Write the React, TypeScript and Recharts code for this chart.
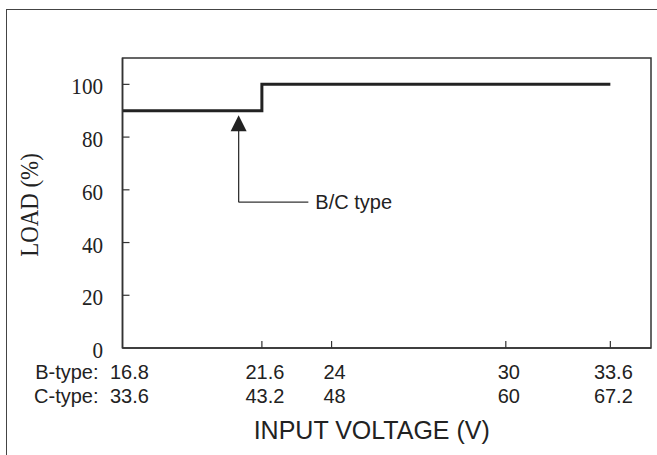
import { LineChart, Line, XAxis, YAxis, ReferenceArea, ReferenceLine, ReferenceDot } from 'recharts';

const bTypeVoltage = [16.8, 21.6, 24, 30, 33.6];
const cTypeVoltage = [33.6, 43.2, 48, 60, 67.2];
const loadTicks = [0, 20, 40, 60, 80, 100];

const stepVoltage = [16.8, 21.6, 33.6];
const stepLoad = [90, 100, 100];

// callout arrow "B/C type"
const arrowVoltage = 20.8;
const arrowTipLoad = 88.3;
const elbowLoad = 55.3;
const calloutEndVoltage = 23.2;

const data = stepVoltage.map((v, i) => ({ voltage: v, load: stepLoad[i] }));

const SANS = '"Liberation Sans", Arial, sans-serif';
const SERIF = '"Liberation Serif", "Times New Roman", serif';
const INK = '#222';
const AXIS = '#333';

// x tick: inward tick mark + two rows of labels (B-type / C-type)
function VoltageTick(props: any) {
  const { x, y, payload } = props;
  const i = bTypeVoltage.indexOf(payload.value);
  const first = i === 0;
  const row1 = y + 24;
  const row2 = y + 48;
  const common = { fontFamily: SANS, fontSize: 20, fill: INK, dominantBaseline: 'central' as const };
  const mark = first ? null : <line x1={x} x2={x} y1={y} y2={y - 7} stroke={AXIS} strokeWidth={1.2} />;
  if (first) {
    return (
      <g>
        <text x={x - 24} y={row1} textAnchor="end" {...common}>B-type:</text>
        <text x={x - 12.5} y={row1} textAnchor="start" {...common}>{bTypeVoltage[i]}</text>
        <text x={x - 24} y={row2} textAnchor="end" {...common}>C-type:</text>
        <text x={x - 12.5} y={row2} textAnchor="start" {...common}>{cTypeVoltage[i]}</text>
      </g>
    );
  }
  return (
    <g>
      {mark}
      <text x={x + 3} y={row1} textAnchor="middle" {...common}>{bTypeVoltage[i]}</text>
      <text x={x + 3} y={row2} textAnchor="middle" {...common}>{cTypeVoltage[i]}</text>
    </g>
  );
}

// y tick: inward tick mark + narrow serif label
function LoadTick(props: any) {
  const { x, y, payload } = props;
  const axisX = x + 19.5;
  return (
    <g>
      {payload.value !== 0 && (
        <line x1={axisX} x2={axisX + 7} y1={y} y2={y} stroke={AXIS} strokeWidth={1.2} />
      )}
      <text
        transform={`translate(${x}, ${y + 2}) scale(0.88, 1)`}
        textAnchor="end"
        dominantBaseline="central"
        fontFamily={SERIF}
        fontSize={24}
        fill={INK}
      >
        {payload.value}
      </text>
    </g>
  );
}

function ArrowHead(props: any) {
  const { cx, cy } = props;
  return <path d={`M${cx},${cy} L${cx - 8},${cy + 16} L${cx + 8},${cy + 16} Z`} fill={INK} />;
}

function CalloutText(props: any) {
  const { cx, cy } = props;
  return (
    <text x={cx + 7} y={cy} fontFamily={SANS} fontSize={20} fill={INK} dominantBaseline="central">
      B/C type
    </text>
  );
}

export default function App() {
  return (
    <div style={{ position: 'absolute', left: 0, top: 0, width: 657, height: 455, background: '#fff' }}>
      <div
        style={{
          position: 'absolute',
          left: 6,
          top: 9,
          width: 660,
          height: 460,
          borderLeft: '1.5px solid #444',
          borderTop: '1.5px solid #444',
        }}
      />
      <div style={{ position: 'absolute', left: 0, top: 0 }}>
        <LineChart width={657} height={455} data={data} margin={{ top: 58, right: 6, bottom: 0, left: 0 }}>
          <XAxis
            dataKey="voltage"
            type="number"
            domain={[16.8, 35]}
            ticks={bTypeVoltage}
            height={107}
            tickSize={0}
            tickMargin={0}
            tickLine={false}
            axisLine={{ stroke: AXIS, strokeWidth: 1.5 }}
            tick={<VoltageTick />}
            label={{
              content: (p: any) => {
                const vb = p.viewBox;
                return (
                  <text
                    x={vb.x + vb.width / 2 - 15}
                    y={430}
                    textAnchor="middle"
                    dominantBaseline="central"
                    fontFamily={SANS}
                    fontSize={25}
                    fill={INK}
                  >
                    INPUT VOLTAGE (V)
                  </text>
                );
              },
            }}
          />
          <YAxis
            type="number"
            domain={[0, 110]}
            ticks={loadTicks}
            width={122.5}
            tickSize={0}
            tickMargin={19.5}
            tickLine={false}
            axisLine={{ stroke: AXIS, strokeWidth: 1.5 }}
            tick={<LoadTick />}
            label={{
              content: (p: any) => {
                const vb = p.viewBox;
                const cy = vb.y + vb.height / 2 + 2;
                return (
                  <text
                    transform={`translate(29, ${cy}) rotate(-90) scale(0.88, 1)`}
                    textAnchor="middle"
                    dominantBaseline="central"
                    fontFamily={SERIF}
                    fontSize={26}
                    fill={INK}
                  >
                    LOAD (%)
                  </text>
                );
              },
            }}
          />
          <ReferenceArea x1={16.8} x2={35} y1={0} y2={110} fill="none" stroke={AXIS} strokeWidth={1.5} />
          <Line
            dataKey="load"
            type="stepAfter"
            stroke={INK}
            strokeWidth={3}
            dot={false}
            isAnimationActive={false}
          />
          <ReferenceLine
            segment={[
              { x: arrowVoltage, y: elbowLoad },
              { x: arrowVoltage, y: arrowTipLoad - 4 },
            ]}
            stroke={AXIS}
            strokeWidth={1.3}
          />
          <ReferenceLine
            segment={[
              { x: arrowVoltage, y: elbowLoad },
              { x: calloutEndVoltage, y: elbowLoad },
            ]}
            stroke={AXIS}
            strokeWidth={1.3}
          />
          <ReferenceDot x={arrowVoltage} y={arrowTipLoad} r={0} shape={<ArrowHead />} />
          <ReferenceDot x={calloutEndVoltage} y={elbowLoad} r={0} shape={<CalloutText />} />
        </LineChart>
      </div>
    </div>
  );
}
